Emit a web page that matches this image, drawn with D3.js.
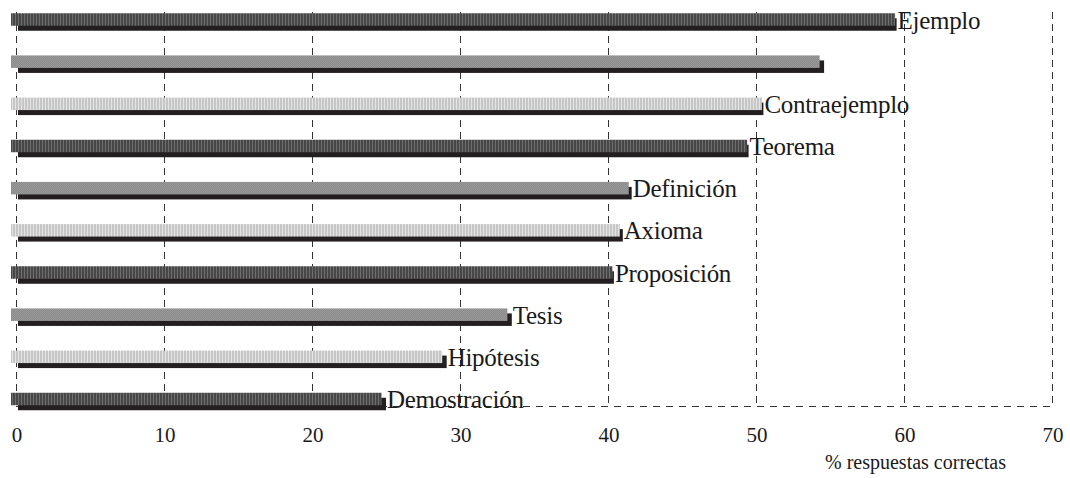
<!DOCTYPE html>
<html>
<head>
<meta charset="utf-8">
<script src="https://cdn.jsdelivr.net/npm/d3@7/dist/d3.min.js"></script>
<style>
  html, body { margin: 0; padding: 0; background: #fff; }
  svg { display: block; }
  svg text { font-family: "Liberation Serif", "Times New Roman", Times, "DejaVu Serif", serif !important; fill: #1a1a1a; }
</style>
</head>
<body>
<svg id="chart" width="1070" height="478"></svg>
<script>
// ---- data ----
const categories = ["Ejemplo", "", "Contraejemplo", "Teorema", "Definición", "Axioma", "Proposición", "Tesis", "Hipótesis", "Demostración"];
const frontValues  = [59.4, 54.3, 50.4, 49.4, 41.4, 40.8, 40.3, 33.2, 28.8, 24.7];
const shadowValues = [59.5, 54.6, 50.5, 49.5, 41.6, 41.0, 40.4, 33.5, 29.1, 25.0];
const xTicks = [0, 10, 20, 30, 40, 50, 60, 70];
const axisTitle = "% respuestas correctas";

const svg = d3.select("#chart");
const serif = '"Liberation Serif", "Times New Roman", Times, "DejaVu Serif", serif';

// ---- patterns ----
const defs = svg.append("defs");
function stripes(id, a, b) {
  const p = defs.append("pattern").attr("id", id).attr("patternUnits", "userSpaceOnUse")
    .attr("width", 3).attr("height", 3);
  p.append("rect").attr("width", 3).attr("height", 3).attr("fill", a);
  p.append("rect").attr("width", 1).attr("height", 3).attr("fill", b);
}
stripes("pDark", "#474747", "#6e6e6e");
stripes("pLight", "#c6c6c6", "#e4e4e4");
const pm = defs.append("pattern").attr("id", "pMid").attr("patternUnits", "userSpaceOnUse")
  .attr("width", 2).attr("height", 2);
pm.append("rect").attr("width", 2).attr("height", 2).attr("fill", "#8a8a8a");
pm.append("rect").attr("width", 1).attr("height", 1).attr("fill", "#9a9a9a");
pm.append("rect").attr("x", 1).attr("y", 1).attr("width", 1).attr("height", 1).attr("fill", "#9a9a9a");
const fills = ["url(#pDark)", "url(#pMid)", "url(#pLight)"];

// ---- scales ----
const plotTop = 12, plotBottom = 406;
const x = d3.scaleLinear().domain([0, 70]).range([16, 1052]);
const y = d3.scalePoint().domain(d3.range(categories.length)).range([19.5, 399]);

// ---- grid ----
const grid = svg.append("g");
grid.selectAll("line.v").data(xTicks).join("line")
  .attr("x1", d => x(d)).attr("x2", d => x(d))
  .attr("y1", plotTop).attr("y2", plotBottom)
  .attr("stroke", "#333").attr("stroke-width", 1)
  .attr("stroke-dasharray", "7,5")
  .attr("shape-rendering", "crispEdges");
grid.append("line")
  .attr("x1", x(0)).attr("x2", x(70)).attr("y1", plotBottom).attr("y2", plotBottom)
  .attr("stroke", "#333").attr("stroke-width", 1)
  .attr("stroke-dasharray", "7,6")
  .attr("shape-rendering", "crispEdges");

// ---- axis (tick labels only) ----
const axis = d3.axisBottom(x).tickValues(xTicks).tickSize(0).tickPadding(0).tickFormat(d3.format("d"));
const ag = svg.append("g").attr("transform", `translate(0, ${plotBottom})`).call(axis)
  .attr("font-family", serif);
ag.select(".domain").remove();
ag.selectAll("text").attr("font-size", "21px").attr("fill", "#1a1a1a")
  .attr("dy", null).attr("y", 36);
ag.selectAll(".tick").attr("transform", d => `translate(${x(d) + 1},0)`);

svg.append("text").attr("x", 825).attr("y", 469)
  .attr("font-family", serif)
  .attr("font-size", "20px").text(axisTitle);

// ---- bars ----
const rows = categories.map((c, i) => ({ i, c, f: frontValues[i], s: shadowValues[i] }));
const barH = 12.5;
const bars = svg.append("g");
bars.selectAll("rect.shadow").data(rows).join("rect")
  .attr("class", "shadow")
  .attr("x", x(0) + 2)
  .attr("y", d => y(d.i) - barH / 2 + 5)
  .attr("width", d => x(d.s) - x(0) - 2)
  .attr("height", barH)
  .attr("fill", "#231f20");
bars.selectAll("rect.front").data(rows).join("rect")
  .attr("class", "front")
  .attr("x", x(0) - 5)
  .attr("y", d => y(d.i) - barH / 2)
  .attr("width", d => x(d.f) - x(0) + 5)
  .attr("height", barH)
  .attr("fill", d => fills[d.i % 3]);

// ---- labels ----
svg.append("g").attr("font-family", serif).selectAll("text").data(rows).join("text")
  .attr("x", d => Math.max(x(d.s), x(d.f)) + 1)
  .attr("y", d => y(d.i) + 9)
  .attr("font-size", "25px")
  .attr("letter-spacing", "-0.3px")
  .text(d => d.c);
</script>
</body>
</html>
